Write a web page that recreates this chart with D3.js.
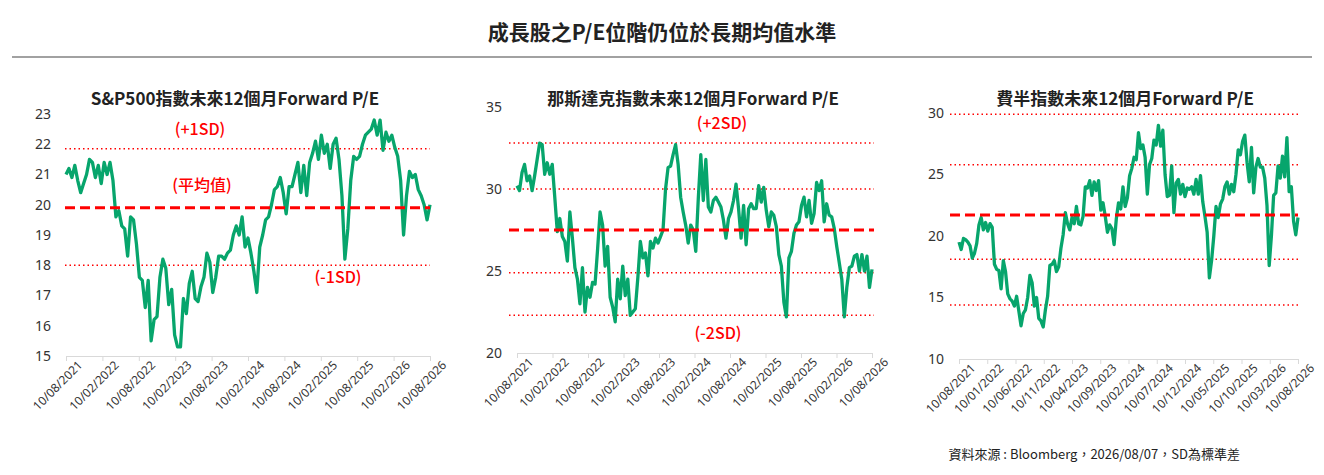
<!DOCTYPE html>
<html><head><meta charset="utf-8">
<script src="https://cdn.jsdelivr.net/npm/d3@7"></script>
<style>body{margin:0;background:#fff;font-family:"Noto Sans CJK TC","Noto Sans",sans-serif}</style>
</head><body><svg id="c" width="1324" height="475"></svg>
<script>
// S&P500 forward P/E
const spxValues = [21.0,21.2,20.9,21.3,20.8,20.4,20.7,21.0,21.5,21.4,20.9,21.3,20.7,21.4,21.0,21.4,20.8,19.6,19.8,19.3,19.2,18.3,19.6,19.5,18.7,17.6,17.5,16.6,17.5,15.5,16.2,16.3,17.6,18.2,17.9,16.7,17.2,15.7,15.3,15.3,16.9,16.4,17.4,17.8,16.9,16.8,17.3,17.6,18.4,18.1,17.1,17.6,18.3,18.3,18.2,18.4,18.5,19.0,19.3,19.0,19.6,18.6,18.9,18.4,17.8,17.1,18.6,19.0,19.5,19.6,20.0,20.5,20.6,20.9,20.4,19.7,20.6,20.6,21.0,21.4,20.4,21.3,20.3,21.4,21.7,22.1,21.5,22.3,21.7,22.0,21.2,22.0,22.2,21.5,20.3,18.2,19.2,20.8,21.6,21.5,21.6,22.0,22.3,22.4,22.5,22.8,22.3,22.8,21.8,22.4,22.1,22.3,21.9,21.6,20.8,19.0,20.3,21.1,20.9,21.0,20.5,20.3,20.0,19.5,20.0];
const ndxValues = [30.2,29.9,31.0,31.5,30.5,30.8,29.9,30.8,31.8,32.8,32.7,30.9,31.6,30.9,31.5,29.5,27.4,28.2,27.1,26.8,25.6,28.6,27.0,25.2,24.5,23.0,25.2,22.5,24.0,23.4,24.3,24.2,26.3,28.6,27.8,25.3,26.5,23.4,22.8,21.9,24.5,23.3,25.3,23.5,24.5,22.3,22.5,22.7,24.6,26.8,25.8,26.1,24.7,26.8,26.4,27.0,26.7,27.1,27.5,30.0,31.3,31.4,32.1,32.7,31.5,29.5,28.6,27.8,26.7,27.8,27.5,26.2,29.4,32.1,29.3,31.8,28.9,28.6,29.3,29.5,29.2,28.9,28.1,27.0,28.2,28.6,29.3,30.3,28.8,27.0,29.0,26.6,28.8,29.1,28.8,28.8,30.2,29.2,30.1,28.7,27.7,28.6,28.4,27.7,26.0,25.3,23.1,22.2,25.8,26.2,27.3,27.8,28.0,29.0,29.5,28.3,29.3,27.9,28.5,30.4,29.9,30.5,28.0,29.1,28.4,28.3,27.6,26.5,25.5,24.5,22.2,24.0,25.2,25.3,25.9,26.0,25.0,26.0,25.0,25.9,24.0,25.1];
const soxValues = [19.5,18.9,19.8,19.7,19.5,19.2,18.2,18.6,19.4,20.9,21.5,20.5,21.1,20.4,21.0,20.7,17.7,17.3,17.2,15.7,18.0,17.1,15.3,14.9,14.7,14.3,15.1,13.9,12.7,13.7,14.0,15.0,16.8,16.2,14.3,15.0,13.3,13.1,12.6,14.0,15.1,17.6,17.7,18.0,17.1,17.5,19.0,20.1,21.9,21.0,20.5,21.5,21.0,22.4,21.0,20.9,21.6,24.0,23.9,24.5,23.3,24.4,23.7,24.5,22.1,22.7,21.6,20.3,20.9,20.6,19.3,21.4,22.7,22.2,24.0,22.4,23.1,24.9,25.5,26.4,26.2,28.4,27.1,27.4,26.4,23.4,25.8,26.3,27.8,27.4,29.0,27.3,28.6,25.0,23.2,23.3,25.7,21.9,24.3,24.6,23.4,24.2,23.2,23.9,23.8,24.0,23.4,24.6,23.4,24.9,22.8,21.6,20.3,16.6,18.0,20.0,22.4,21.5,22.6,23.0,24.0,24.4,23.4,24.2,23.6,25.0,27.0,26.6,27.7,28.2,26.0,24.4,27.2,23.5,25.6,26.3,25.6,25.6,24.7,22.5,17.6,20.0,23.3,23.5,25.7,24.7,26.5,24.8,28.0,23.6,24.0,21.2,20.1,21.5];

const dates11 = ["10/08/2021","10/02/2022","10/08/2022","10/02/2023","10/08/2023","10/02/2024","10/08/2024","10/02/2025","10/08/2025","10/02/2026","10/08/2026"];
const dates13 = ["10/08/2021","10/01/2022","10/06/2022","10/11/2022","10/04/2023","10/09/2023","10/02/2024","10/07/2024","10/12/2024","10/05/2025","10/10/2025","10/03/2026","10/08/2026"];

const spxMean = 19.9, spxBands = [21.85, 18.0];
const ndxMean = 27.5, ndxBands = [32.8, 30.0, 24.9, 22.3];
const soxMean = 21.7, soxBands = [29.9, 25.8, 18.1, 14.4];

const svg = d3.select("#c");
const GREEN = "#07a56c", RED = "#ff0000";

svg.append("text").attr("x", 662).attr("y", 40).attr("text-anchor", "middle")
  .attr("font-size", 21).attr("font-weight", "bold").attr("fill", "#222")
  .text("成長股之P/E位階仍位於長期均值水準");
svg.append("line").attr("x1", 12).attr("x2", 1312).attr("y1", 57).attr("y2", 57)
  .attr("stroke", "#444").attr("stroke-width", 1.2);

function panel(o) {
  const g = svg.append("g");
  const x = d3.scaleLinear().domain([0, o.values.length - 1]).range([o.x0, o.x1]);
  const xt = d3.scalePoint().domain(o.dates).range([o.x0, o.x1]);
  const y = d3.scaleLinear().domain(o.domain).range([o.y0, o.y1]);

  g.append("text").attr("x", o.titleX).attr("y", 105).attr("text-anchor", "middle")
    .attr("font-size", 17).attr("font-weight", "bold").attr("fill", "#222").text(o.title);

  const ya = g.append("g").attr("transform", `translate(${o.x0 - 12},0)`)
    .call(d3.axisLeft(y).tickValues(o.ticks).tickSize(0));
  ya.select(".domain").remove();
  ya.selectAll("text").attr("font-size", 14).attr("fill", "#333")
    .attr("font-family", "Noto Sans, sans-serif");

  const xa = g.append("g").attr("transform", `translate(0,${o.y0})`)
    .call(d3.axisBottom(xt).tickSize(5).tickSizeOuter(0));
  xa.select(".domain").attr("stroke", "#d9d9d9");
  xa.selectAll("line").attr("stroke", "#d9d9d9");
  xa.selectAll("text").attr("font-size", 12).attr("fill", "#333")
    .attr("font-family", "Noto Sans, sans-serif")
    .attr("text-anchor", "end").attr("dx", "0.4em").attr("dy", "0.9em")
    .attr("transform", "rotate(-45)");

  o.bands.forEach(b => g.append("line").attr("x1", o.bx0).attr("x2", o.bx1)
    .attr("y1", y(b)).attr("y2", y(b)).attr("stroke", RED).attr("stroke-width", 1.5)
    .attr("stroke-dasharray", "1.5,3"));

  g.append("path").datum(o.values)
    .attr("d", d3.line().x((d, i) => x(i)).y(d => y(d)))
    .attr("fill", "none").attr("stroke", GREEN).attr("stroke-width", 3.3)
    .attr("stroke-linejoin", "round");

  g.append("line").attr("x1", o.bx0).attr("x2", o.bx1)
    .attr("y1", y(o.mean)).attr("y2", y(o.mean)).attr("stroke", RED)
    .attr("stroke-width", 3).attr("stroke-dasharray", "10,5");

  (o.labels || []).forEach(l => g.append("text").attr("x", l[0]).attr("y", y(l[1]))
    .attr("text-anchor", "middle").attr("dominant-baseline", "middle")
    .attr("font-size", 16).attr("font-weight", 500).attr("fill", RED).text(l[2]));
}

panel({ values: spxValues, dates: dates11, domain: [15, 23], ticks: d3.range(15, 24),
  x0: 66, x1: 430, y0: 356, y1: 114, bx0: 65, bx1: 430, mean: spxMean, bands: spxBands,
  title: "S&P500指數未來12個月Forward P/E", titleX: 235,
  labels: [[200, 22.45, "(+1SD)"], [202, 20.6, "(平均值)"], [338, 17.55, "(-1SD)"]] });

panel({ values: ndxValues, dates: dates11, domain: [20, 35], ticks: [20, 25, 30, 35],
  x0: 517, x1: 872, y0: 353, y1: 107, bx0: 509, bx1: 874, mean: ndxMean, bands: ndxBands,
  title: "那斯達克指數未來12個月Forward P/E", titleX: 693,
  labels: [[722, 33.9, "(+2SD)"], [718, 21.1, "(-2SD)"]] });

panel({ values: soxValues, dates: dates13, domain: [10, 30], ticks: [10, 15, 20, 25, 30],
  x0: 959, x1: 1298, y0: 359, y1: 113, bx0: 950, bx1: 1298, mean: soxMean, bands: soxBands,
  title: "費半指數未來12個月Forward P/E", titleX: 1125 });

svg.append("text").attr("x", 1240).attr("y", 459).attr("text-anchor", "end")
  .attr("font-size", 13).attr("fill", "#222")
  .text("資料來源 : Bloomberg，2026/08/07，SD為標準差");
</script></body></html>
